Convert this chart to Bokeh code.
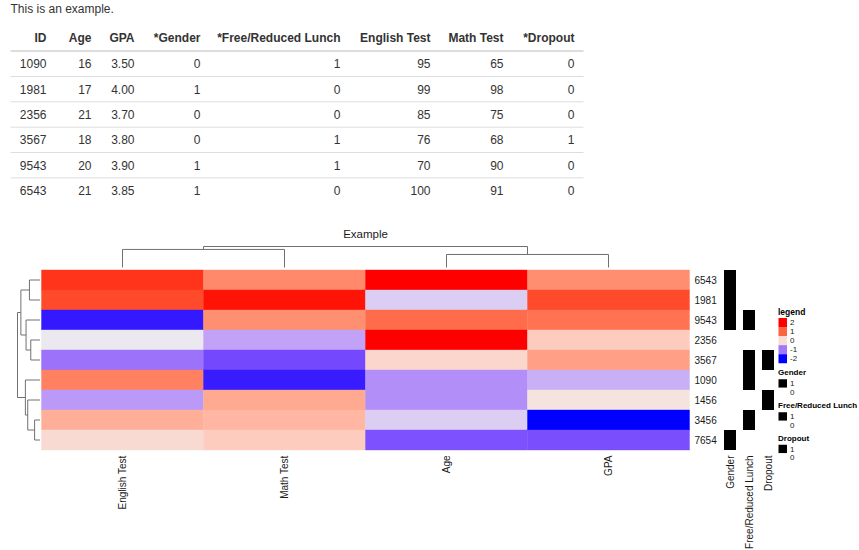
import numpy as np
from bokeh.plotting import figure
from bokeh.models import Range1d, LinearColorMapper, CategoricalColorMapper, ColumnDataSource
from bokeh.transform import transform
from bokeh.core.properties import value
from bokeh.embed import file_html
from bokeh.resources import INLINE

# ---------------- data ----------------
intro_text = "This is an example."
table_columns = ["ID", "Age", "GPA", "*Gender", "*Free/Reduced Lunch", "English Test", "Math Test", "*Dropout"]
table_id = ["1090", "1981", "2356", "3567", "9543", "6543"]
table_age = [16, 17, 21, 18, 20, 21]
table_gpa = [3.50, 4.00, 3.70, 3.80, 3.90, 3.85]
table_gender = [0, 1, 0, 0, 1, 1]
table_lunch = [1, 0, 0, 1, 1, 0]
table_english = [95, 99, 85, 76, 70, 100]
table_math = [65, 98, 75, 68, 90, 91]
table_dropout = [0, 0, 0, 1, 0, 0]

heat_title = "Example"
heat_columns = ["English Test", "Math Test", "Age", "GPA"]
heat_rows = ["6543", "1981", "9543", "2356", "3567", "1090", "1456", "3456", "7654"]
z_english = [1.25, 1.15, -1.61, -0.20, -1.05, 0.78, -0.76, 0.40, 0.02]
z_math = [0.72, 1.35, 0.67, -0.70, -1.34, -1.60, 0.45, 0.33, 0.15]
z_age = [1.38, -0.39, 0.93, 1.38, 0.05, -0.84, -0.84, -0.39, -1.28]
z_gpa = [0.68, 1.15, 0.88, 0.15, 0.52, -0.60, -0.05, -1.72, -1.30]

annot_names = ["Gender", "Free/Reduced Lunch", "Dropout"]
annot_gender = [1, 1, 1, 0, 0, 0, 0, 0, 1]
annot_lunch = [0, 0, 1, 0, 1, 1, 0, 1, 0]
annot_dropout = [0, 0, 0, 0, 1, 0, 1, 0, 0]

legend_title = "legend"
legend_breaks = [2, 1, 0, -1, -2]
annot_levels = [1, 0]

# dendrograms (hclust style: negative = leaf at display position, positive = earlier merge)
col_merge = [(-1, -2), (-3, -4), (1, 2)]
col_height = [0.86, 0.62, 1.0]
row_merge = [(-8, -9), (-4, -5), (-1, -2), (-7, 1), (-3, 2), (-6, 4), (3, 5), (7, 6)]
row_height = [0.24, 0.41, 0.47, 0.545, 0.62, 0.65, 0.85, 1.0]

# colour ramp (blue - #EEEEEE - red, interpolated in LAB)
ramp_low, ramp_high = -1.69, 1.38
ramp_colors = ["#0000FF", "#EEEEEE", "#FF0000"]

# ---------------- helpers ----------------
FONT = value("Liberation Sans")


def hex_to_lab(c):
    rgb = [int(c[i:i + 2], 16) / 255 for i in (1, 3, 5)]
    lin = [((v + 0.055) / 1.055) ** 2.4 if v > 0.04045 else v / 12.92 for v in rgb]
    X = 0.4124 * lin[0] + 0.3576 * lin[1] + 0.1805 * lin[2]
    Y = 0.2126 * lin[0] + 0.7152 * lin[1] + 0.0722 * lin[2]
    Z = 0.0193 * lin[0] + 0.1192 * lin[1] + 0.9505 * lin[2]

    def f(t):
        return t ** (1 / 3) if t > 216 / 24389 else (24389 / 27 * t + 16) / 116

    fx, fy, fz = f(X / 0.95047), f(Y), f(Z / 1.08883)
    return (116 * fy - 16, 500 * (fx - fy), 200 * (fy - fz))


def lab_to_hex(L, a, b):
    fy = (L + 16) / 116
    fx = fy + a / 500
    fz = fy - b / 200

    def finv(t):
        return t ** 3 if t ** 3 > 216 / 24389 else (116 * t - 16) / (24389 / 27)

    X, Y, Z = 0.95047 * finv(fx), finv(fy), 1.08883 * finv(fz)
    r = 3.2406 * X - 1.5372 * Y - 0.4986 * Z
    g = -0.9689 * X + 1.8758 * Y + 0.0415 * Z
    bl = 0.0557 * X - 0.2040 * Y + 1.0570 * Z

    def gam(v):
        v = min(max(v, 0.0), 1.0)
        return 1.055 * v ** (1 / 2.4) - 0.055 if v > 0.0031308 else 12.92 * v

    return "#%02x%02x%02x" % tuple(int(round(gam(v) * 255)) for v in (r, g, bl))


def build_palette(colors, n=256):
    labs = [hex_to_lab(c) for c in colors]
    out = []
    for i in range(n):
        t = i / (n - 1) * (len(labs) - 1)
        k = min(int(t), len(labs) - 2)
        f = t - k
        l0, l1 = labs[k], labs[k + 1]
        out.append(lab_to_hex(*[l0[j] + (l1[j] - l0[j]) * f for j in range(3)]))
    return out


def dendro_segments(merges, heights):
    nodes, segs = [], []

    def get(idx):
        return (float(-idx), 0.0) if idx < 0 else nodes[idx - 1]

    for (a, b), h in zip(merges, heights):
        pa, ha = get(a)
        pb, hb = get(b)
        segs += [(pa, h, pb, h), (pa, ha, pa, h), (pb, hb, pb, h)]
        nodes.append(((pa + pb) / 2, h))
    return segs


# ---------------- layout constants (page pixels) ----------------
W, H = 859, 550
TEXT_COL = "#333333"
TABLE_LEFT, TABLE_RIGHT = 10, 583
TABLE_COL_RIGHT = [46, 91, 134, 200, 340, 430, 503, 574]
HEADER_Y = 37
ROW_Y0, ROW_DY = 63.3, 25.35

HM_LEFT, HM_TOP, CELL_W, CELL_H = 41, 269.5, 162, 20
COL_DEND_BASE, COL_DEND_SPAN = 267, 21
ROW_DEND_BASE, ROW_DEND_SPAN = 39.5, 22.5
ANN_X0, ANN_STEP, ANN_W = 723.5, 19, 12
LEG_X = 778

p = figure(width=W, height=H, x_range=Range1d(0, W), y_range=Range1d(H, 0),
           output_backend="svg", toolbar_location=None, x_axis_type=None, y_axis_type=None,
           min_border=0, min_border_left=0, min_border_right=0, min_border_top=0, min_border_bottom=0)
p.grid.visible = False
p.outline_line_color = None
p.background_fill_color = "white"
p.border_fill_color = "white"

# ---------------- table ----------------
p.text(x=[TABLE_LEFT], y=[8.5], text=[intro_text], text_font=FONT, text_font_size="12px",
       text_color=TEXT_COL, text_baseline="middle", text_align="left")

p.text(x=TABLE_COL_RIGHT, y=[HEADER_Y] * len(table_columns), text=table_columns, text_font=FONT,
       text_font_size="12px", text_font_style="bold", text_color=TEXT_COL,
       text_baseline="middle", text_align="right")

cols_as_text = [
    table_id,
    [str(v) for v in table_age],
    ["%.2f" % v for v in table_gpa],
    [str(v) for v in table_gender],
    [str(v) for v in table_lunch],
    [str(v) for v in table_english],
    [str(v) for v in table_math],
    [str(v) for v in table_dropout],
]
tx, ty, tt = [], [], []
for ci, col in enumerate(cols_as_text):
    for ri, s in enumerate(col):
        tx.append(TABLE_COL_RIGHT[ci])
        ty.append(ROW_Y0 + ri * ROW_DY)
        tt.append(s)
p.text(x=tx, y=ty, text=tt, text_font=FONT, text_font_size="12px", text_color=TEXT_COL,
       text_baseline="middle", text_align="right")

p.segment(x0=[TABLE_LEFT], x1=[TABLE_RIGHT], y0=[50.5], y1=[50.5], line_color="#dddddd", line_width=2)
sep_y = [ROW_Y0 + ROW_DY / 2 + k * ROW_DY for k in range(len(table_id) - 1)]
p.segment(x0=[TABLE_LEFT] * len(sep_y), x1=[TABLE_RIGHT] * len(sep_y), y0=sep_y, y1=sep_y,
          line_color="#dddddd", line_width=1)

# ---------------- heatmap ----------------
mapper = LinearColorMapper(palette=build_palette(ramp_colors), low=ramp_low, high=ramp_high)
zcols = [z_english, z_math, z_age, z_gpa]
hl, hr, ht, hb, hz = [], [], [], [], []
for j, zc in enumerate(zcols):
    for i, zv in enumerate(zc):
        hl.append(HM_LEFT + j * CELL_W)
        hr.append(HM_LEFT + (j + 1) * CELL_W)
        ht.append(HM_TOP + i * CELL_H)
        hb.append(HM_TOP + (i + 1) * CELL_H)
        hz.append(zv)
hsrc = ColumnDataSource(dict(left=hl, right=hr, top=ht, bottom=hb, z=hz))
p.quad(left="left", right="right", top="top", bottom="bottom", source=hsrc,
       fill_color=transform("z", mapper), line_color=transform("z", mapper), line_width=0.4)

# title
p.text(x=[HM_LEFT + CELL_W * len(heat_columns) / 2], y=[233.5], text=[heat_title], text_font=FONT,
       text_font_size="11.5px", text_color="#1a1a1a", text_baseline="middle", text_align="center")

# row labels
p.text(x=[HM_LEFT + CELL_W * len(heat_columns) + 5] * len(heat_rows),
       y=[HM_TOP + (i + 0.5) * CELL_H for i in range(len(heat_rows))], text=heat_rows,
       text_font=FONT, text_font_size="10px", text_color="#1a1a1a",
       text_baseline="middle", text_align="left")

# column labels
p.text(x=[HM_LEFT + (j + 0.5) * CELL_W for j in range(len(heat_columns))],
       y=[HM_TOP + CELL_H * len(heat_rows) + 5.5] * len(heat_columns), text=heat_columns,
       angle=np.pi / 2, text_font=FONT, text_font_size="10px", text_color="#1a1a1a",
       text_baseline="middle", text_align="right")

# dendrograms
cs = dendro_segments(col_merge, col_height)
p.segment(x0=[HM_LEFT + (s[0] - 0.5) * CELL_W for s in cs],
          y0=[COL_DEND_BASE - s[1] * COL_DEND_SPAN for s in cs],
          x1=[HM_LEFT + (s[2] - 0.5) * CELL_W for s in cs],
          y1=[COL_DEND_BASE - s[3] * COL_DEND_SPAN for s in cs],
          line_color="#707070", line_width=1)
rs = dendro_segments(row_merge, row_height)
p.segment(y0=[HM_TOP + (s[0] - 0.5) * CELL_H for s in rs],
          x0=[ROW_DEND_BASE - s[1] * ROW_DEND_SPAN for s in rs],
          y1=[HM_TOP + (s[2] - 0.5) * CELL_H for s in rs],
          x1=[ROW_DEND_BASE - s[3] * ROW_DEND_SPAN for s in rs],
          line_color="#707070", line_width=1)

# annotations
amapper = CategoricalColorMapper(factors=["0", "1"], palette=["#ffffff", "#000000"])
annot_vals = [annot_gender, annot_lunch, annot_dropout]
al, ar, at, ab, av = [], [], [], [], []
for k, vals in enumerate(annot_vals):
    for i, v in enumerate(vals):
        al.append(ANN_X0 + k * ANN_STEP)
        ar.append(ANN_X0 + k * ANN_STEP + ANN_W)
        at.append(HM_TOP + i * CELL_H)
        ab.append(HM_TOP + (i + 1) * CELL_H)
        av.append(str(v))
asrc = ColumnDataSource(dict(left=al, right=ar, top=at, bottom=ab, v=av))
p.quad(left="left", right="right", top="top", bottom="bottom", source=asrc,
       fill_color=transform("v", amapper), line_color=None)
p.text(x=[ANN_X0 + k * ANN_STEP + ANN_W / 2 for k in range(len(annot_names))],
       y=[HM_TOP + CELL_H * len(heat_rows) + 5.5] * len(annot_names), text=annot_names,
       angle=np.pi / 2, text_font=FONT, text_font_size="10px", text_color="#1a1a1a",
       text_baseline="middle", text_align="right")

# ---------------- legends ----------------
leg_title_y = 311
p.text(x=[LEG_X - 0.5], y=[leg_title_y], text=[legend_title], text_font=FONT, text_font_size="8.5px",
       text_font_style="bold", text_color="#000000", text_baseline="middle", text_align="left")
lb_top = [leg_title_y + 6.5 + k * 9.05 for k in range(len(legend_breaks))]
lsrc = ColumnDataSource(dict(left=[LEG_X] * len(legend_breaks), right=[LEG_X + 8.5] * len(legend_breaks),
                             top=lb_top, bottom=[t + 9.05 for t in lb_top], v=legend_breaks))
p.quad(left="left", right="right", top="top", bottom="bottom", source=lsrc,
       fill_color=transform("v", mapper), line_color=None)
p.text(x=[LEG_X + 11.5] * len(legend_breaks), y=[t + 4.5 for t in lb_top],
       text=[str(v) for v in legend_breaks], text_font=FONT, text_font_size="8px",
       text_color="#1a1a1a", text_baseline="middle", text_align="left")

ann_title_y = [372, 405, 437.5]
gl, gr, gt, gb, gv, lx, ly, lt = [], [], [], [], [], [], [], []
for k, name in enumerate(annot_names):
    for m, lev in enumerate(annot_levels):
        top = ann_title_y[k] + 6.75 + m * 8.5
        gl.append(LEG_X)
        gr.append(LEG_X + 8.5)
        gt.append(top)
        gb.append(top + 8.5)
        gv.append(str(lev))
        lx.append(LEG_X + 11.5)
        ly.append(top + 4.25)
        lt.append(str(lev))
p.text(x=[LEG_X - 0.5] * len(annot_names), y=ann_title_y, text=annot_names, text_font=FONT,
       text_font_size="8px", text_font_style="bold", text_color="#000000",
       text_baseline="middle", text_align="left")
gsrc = ColumnDataSource(dict(left=gl, right=gr, top=gt, bottom=gb, v=gv))
p.quad(left="left", right="right", top="top", bottom="bottom", source=gsrc,
       fill_color=transform("v", amapper), line_color=None)
p.text(x=lx, y=ly, text=lt, text_font=FONT, text_font_size="8px", text_color="#1a1a1a",
       text_baseline="middle", text_align="left")

open("out.html", "w").write(file_html(p, INLINE))
